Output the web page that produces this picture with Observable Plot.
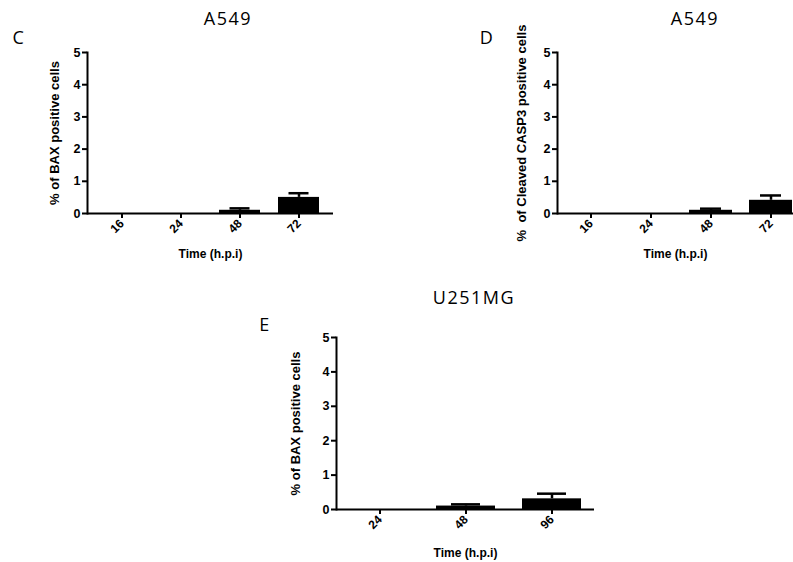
<!DOCTYPE html>
<html><head><meta charset="utf-8">
<script src="https://cdn.jsdelivr.net/npm/d3@7"></script>
<script src="https://cdn.jsdelivr.net/npm/@observablehq/plot@0.6"></script>
<style>
body{margin:0;background:#fff;}
#wrap{position:relative;width:793px;height:562px;overflow:hidden;}
.t{position:absolute;font-family:"Open Sans",sans-serif;font-size:18px;color:#000;transform:translate(-50%,-50%);white-space:nowrap;letter-spacing:1.5px;}
.p{position:absolute;}
</style></head><body><div id="wrap"></div>
<script>
// Panel C: A549, BAX
const timesC = ["16","24","48","72"];
const baxC = [0, 0, 0.1, 0.5];
const baxCTop = [0, 0, 0.16, 0.63];
// Panel D: A549, Cleaved CASP3
const timesD = ["16","24","48","72"];
const casp3D = [0, 0, 0.1, 0.41];
const casp3DTop = [0, 0, 0.15, 0.56];
// Panel E: U251MG, BAX
const timesE = ["24","48","96"];
const baxE = [0, 0.1, 0.31];
const baxETop = [0, 0.15, 0.46];
const yTicks = [0,1,2,3,4,5];

const wrap = document.getElementById("wrap");

function panel(cfg) {
  const data = cfg.times.map((t,i) => ({t, v: cfg.vals[i], top: cfg.tops[i]}));
  const withErr = data.filter(d => d.top > d.v);
  const svg = Plot.plot({
    width: cfg.width, height: cfg.height,
    marginLeft: cfg.ml, marginRight: cfg.mr, marginTop: cfg.mt, marginBottom: cfg.mb,
    style: {fontFamily: '"Liberation Sans", Arial, sans-serif', fontSize: "12px", fontWeight: "bold", color: "#000", background: "transparent"},
    x: {type: "band", domain: cfg.times, paddingInner: cfg.pi, paddingOuter: cfg.po, align: cfg.align},
    y: {domain: [0,5]},
    marks: [
      Plot.barY(data, {x: "t", y: "v", fill: "#000"}),
      Plot.ruleX(withErr, {x: "t", y1: "v", y2: "top", stroke: "#000", strokeWidth: 2.5}),
      Plot.tickY(withErr, {x: "t", y: "top", stroke: "#000", strokeWidth: 2.5, insetLeft: cfg.cap, insetRight: cfg.cap}),
      Plot.axisY({ticks: yTicks, tickFormat: d3.format("d"), tickSize: 5, tickPadding: 2, strokeWidth: 2, fontSize: 12.5, label: null}),
      Plot.axisY({ticks: [], fontSize: 13, label: cfg.ylabel, labelAnchor: "center", labelOffset: cfg.ylo, labelArrow: "none"}),
      Plot.axisX({tickSize: 5, tickPadding: 3, tickRotate: -45, strokeWidth: 2, fontSize: 12, label: "Time (h.p.i)", labelAnchor: "center", labelOffset: cfg.xlo, labelArrow: "none"}),
      Plot.frame({anchor: "left", stroke: "#000", strokeWidth: 2}),
      Plot.ruleY([0], {stroke: "#000", strokeWidth: 2})
    ]
  });
  svg.classList.add("p");
  svg.style.left = cfg.left + "px";
  svg.style.top = cfg.top + "px";
  wrap.appendChild(svg);
}

function label(txt, x, y) {
  const d = document.createElement("div");
  d.className = "t"; d.textContent = txt;
  d.style.left = x + "px"; d.style.top = y + "px";
  wrap.appendChild(d);
}

panel({times: timesC, vals: baxC, tops: baxCTop, left: 0, top: 0, width: 380, height: 270,
  ml: 87, mr: 47, mt: 52, mb: 57, pi: 0.3, po: 0.2, align: 0.5, cap: 10.5,
  ylabel: "% of BAX positive cells", ylo: 38, xlo: 44});
panel({times: timesD, vals: casp3D, tops: casp3DTop, left: 380, top: 0, width: 413, height: 270,
  ml: 177, mr: 0, mt: 52, mb: 57, pi: 0.287, po: 0.095, align: 0.9, cap: 11,
  ylabel: "% \u00a0of Cleaved CASP3 positive cells", ylo: 41, xlo: 44});
panel({times: timesE, vals: baxE, tops: baxETop, left: 240, top: 270, width: 354, height: 292,
  ml: 96, mr: 0, mt: 67, mb: 53, pi: 0.314, po: 0.157, align: 0.5, cap: 15,
  ylabel: "% of BAX positive cells", ylo: 46, xlo: 47});

label("A549", 228, 18);
label("A549", 695, 18);
label("U251MG", 474, 297);
label("C", 19, 37);
label("D", 487, 37);
label("E", 265, 324);
</script>
</body></html>
